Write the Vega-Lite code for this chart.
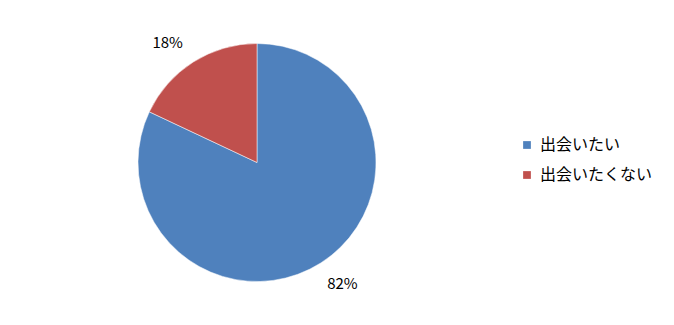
{
  "$schema": "https://vega.github.io/schema/vega-lite/v6.json",
  "width": 514,
  "height": 325,
  "autosize": {"type": "none"},
  "padding": {"left": 0, "top": 0, "right": 160, "bottom": 0},
  "background": "white",
  "config": {"view": {"stroke": null}, "font": "Noto Sans CJK JP"},
  "data": {"values": [
    {"category": "出会いたい", "value": 82, "label": "82%"},
    {"category": "出会いたくない", "value": 18, "label": "18%"}
  ]},
  "encoding": {
    "theta": {"field": "value", "type": "quantitative", "stack": true},
    "order": {"field": "value", "type": "quantitative", "sort": "descending"},
    "color": {
      "field": "category", "type": "nominal",
      "scale": {"domain": ["出会いたい", "出会いたくない"], "range": ["#4F81BD", "#C0504D"]},
      "legend": {
        "title": null, "orient": "none", "legendX": 519, "legendY": 137,
        "symbolType": "square", "symbolSize": 60, "symbolStrokeWidth": 0,
        "labelFontSize": 16, "labelColor": "#000000", "labelFont": "Noto Sans CJK JP",
        "rowPadding": 14, "labelOffset": 5
      }
    }
  },
  "layer": [
    {"mark": {"type": "arc", "outerRadius": 119, "stroke": "white", "strokeWidth": 0.5}},
    {"mark": {"type": "text", "radius": 150, "fontSize": 15, "color": "#000000", "dx": -9, "dy": 7},
     "encoding": {"text": {"condition": {"test": "datum.label === '18%'", "field": "label"}, "value": ""}, "color": {"value": "#000000"}}},
    {"mark": {"type": "text", "radius": 150, "fontSize": 15, "color": "#000000", "dx": 5, "dy": -5},
     "encoding": {"text": {"condition": {"test": "datum.label === '82%'", "field": "label"}, "value": ""}, "color": {"value": "#000000"}}}
  ]
}
